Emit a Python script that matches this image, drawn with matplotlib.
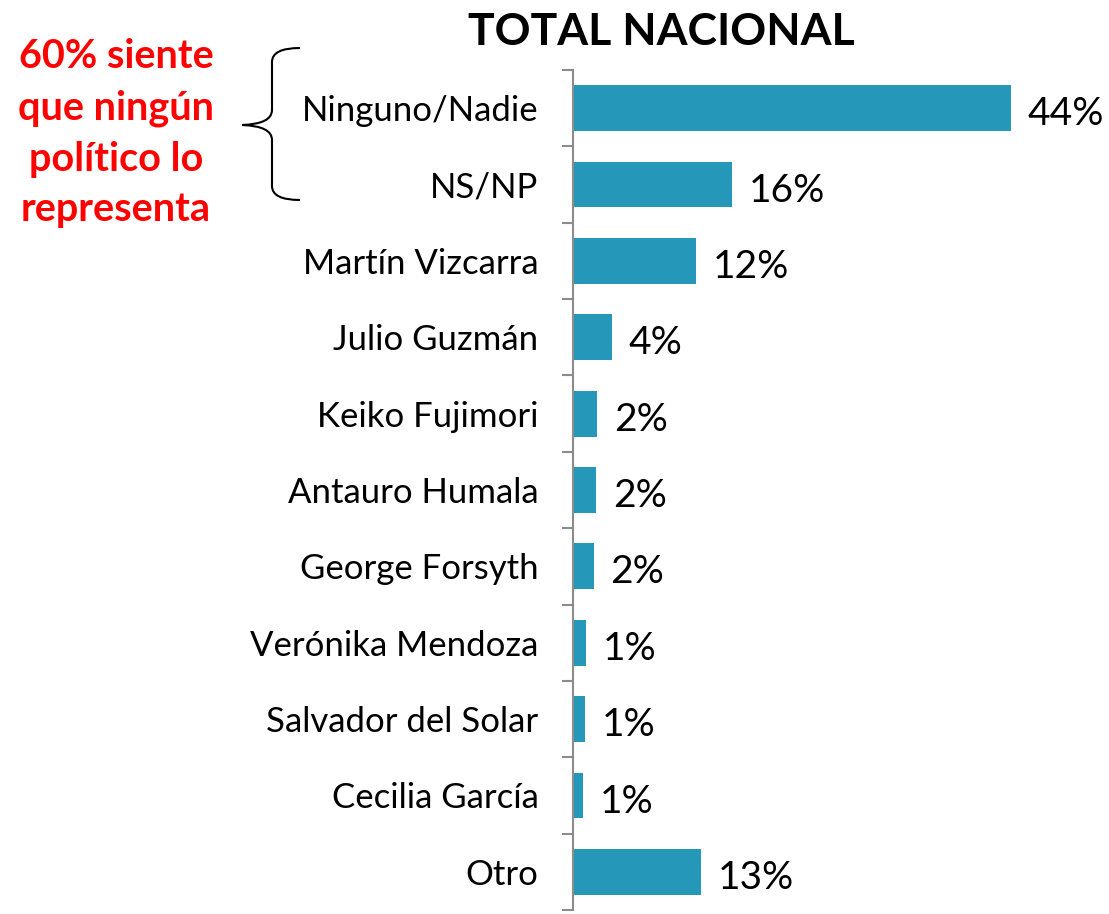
import matplotlib
matplotlib.use("Agg")
import matplotlib.pyplot as plt
from matplotlib.path import Path
from matplotlib.patches import PathPatch

categories = ["Ninguno/Nadie", "NS/NP", "Martín Vizcarra", "Julio Guzmán", "Keiko Fujimori",
              "Antauro Humala", "George Forsyth", "Verónika Mendoza", "Salvador del Solar",
              "Cecilia García", "Otro"]
values = [44.0, 16.0, 12.3, 3.9, 2.4, 2.3, 2.05, 1.25, 1.2, 0.95, 12.8]
value_labels = ["44%", "16%", "12%", "4%", "2%", "2%", "2%", "1%", "1%", "1%", "13%"]
title = "TOTAL NACIONAL"
note_lines = ["60% siente", "que ningún", "político lo", "representa"]

W, H = 1109, 914
fig = plt.figure(figsize=(W / 100, H / 100), dpi=100)
fig.patch.set_facecolor("white")
font = "Lato"

ax = fig.add_axes([573.3 / W, 1 - 910 / H, (1100 - 573.3) / W, (910 - 70) / H])
ypos = list(range(len(categories)))
ax.barh(ypos, values, height=0.6, color="#2598B9", edgecolor="none")
ax.set_xlim(0, (1100 - 573.3) / 9.94)
ax.set_ylim(len(categories) - 0.5, -0.5)

for s in ["top", "right", "bottom"]:
    ax.spines[s].set_visible(False)
ax.spines["left"].set_color("#8c8c8c")
ax.spines["left"].set_linewidth(1.5)
ax.set_xticks([])
ax.set_yticks([i - 0.5 for i in range(len(categories) + 1)])
ax.set_yticklabels([])
ax.tick_params(axis="y", which="major", direction="out", length=8, width=1.5, color="#8c8c8c")
ax.set_yticks(ypos, minor=True)
ax.set_yticklabels(categories, minor=True, fontsize=25, family=font)
ax.tick_params(axis="y", which="minor", length=0, pad=25)

for y, v, lab in zip(ypos, values, value_labels):
    ax.text(v + 1.7, y + 0.08, lab, va="center", ha="left", fontsize=28, family=font, color="black")

fig.text(661 / W, 1 - 32 / H, title, ha="center", va="center", fontsize=32, fontweight="bold", family=font)

for i, line in enumerate(note_lines):
    fig.text(116 / W, 1 - (57 + i * 51) / H, line, ha="center", va="center", fontsize=28.5,
             fontweight="bold", color="#FF0000", family=font)

# curly brace in pixel coordinates
def px(x, y):
    return (x / W, 1 - y / H)

verts = [px(300, 48), px(272, 48), px(272, 62), px(272, 110),
         px(272, 124), px(242, 125),
         px(272, 126), px(272, 140), px(272, 186),
         px(272, 200), px(300, 200)]
codes = [Path.MOVETO, Path.CURVE3, Path.CURVE3, Path.LINETO,
         Path.CURVE3, Path.CURVE3,
         Path.CURVE3, Path.CURVE3, Path.LINETO,
         Path.CURVE3, Path.CURVE3]
patch = PathPatch(Path(verts, codes), facecolor="none", edgecolor="black", lw=1.5,
                  transform=fig.transFigure)
fig.add_artist(patch)

fig.savefig("out.png", dpi=100)
